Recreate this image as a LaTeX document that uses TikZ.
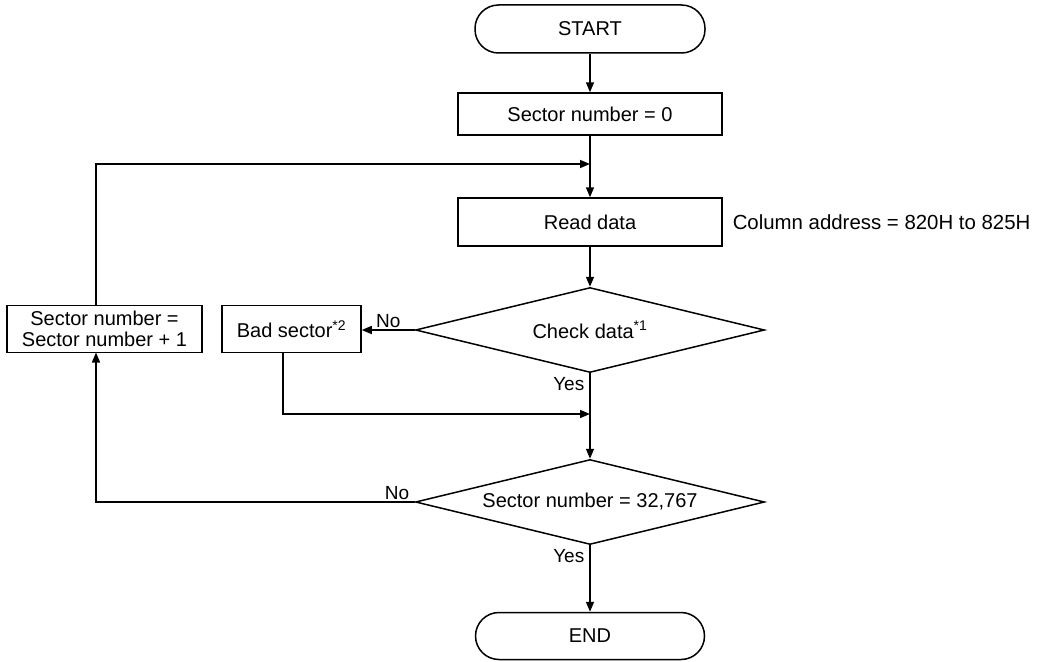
\documentclass[tikz,border=0pt]{standalone}
\usepackage{fontspec}
\setmainfont{Liberation Sans}
\usetikzlibrary{shapes.geometric,arrows.meta}
\newcommand{\ztext}[1]{\makebox[0pt]{#1}}
\tikzset{
  every node/.style={font=\fontsize{20}{23}\selectfont, inner sep=0pt},
  term/.style={draw, rectangle, rounded corners=23.5pt, minimum width=230pt, minimum height=48pt},
  procbox/.style={draw, rectangle},
  decision/.style={draw, diamond, aspect=4.1, minimum width=349pt, minimum height=85pt},
  arr/.style={-{Triangle[length=10pt,width=8pt]}},
  lbl/.style={font=\fontsize{19}{21}\selectfont},
}
\begin{document}
\begin{tikzpicture}[x=1pt,y=-1pt,line width=1.5pt]
\useasboundingbox (0,0) rectangle (1046,661);
\node[term] (start) at (590,29) {START};
\node[procbox, minimum width=264pt, minimum height=42pt] (s0) at (590,114) {Sector number = 0};
\node[procbox, minimum width=264pt, minimum height=48pt] (read) at (590,222) {Read data};
\node[anchor=west, font=\fontsize{20.4}{23}\selectfont] (col) at (732,222) {Column address = 820H to 825H};
\node[decision] (check) at (590,330) {\ztext{Check data\textsuperscript{*1}}};
\node[procbox, minimum width=139pt, minimum height=47pt] (bad) at (291.5,329) {Bad sector\textsuperscript{*2}};
\node[procbox, minimum width=195pt, minimum height=47pt, align=center, font=\fontsize{20}{21}\selectfont] (inc) at (104.5,329) {Sector number =\\Sector number + 1};
\node[decision] (sec) at (590,502) {\ztext{Sector number = 32,767}};
\node[term, minimum width=229pt, minimum height=47pt] (end) at (590,636) {END};
\coordinate (j1) at (590,164);
\coordinate (j2) at (590,414);
\coordinate (inctop) at (96,305.5);
\coordinate (incbot) at (96,352.5);
\coordinate (badbot) at (283,352.5);

\draw[arr] (start) -- (s0);
\draw[arr] (s0) -- (read);
\draw[arr] (inctop) |- (j1);
\draw[arr] (read) -- (check);
\draw[arr] (check.west) -- node[lbl, above=2pt] (no1) {No} (check.west -| bad.east);
\draw[arr] (check.south) -- (sec.north);
\node[lbl, anchor=north east] (yes1) at ([xshift=-5pt,yshift=-3pt]check.south) {Yes};
\draw[arr] (badbot) |- (j2);
\draw[arr] (sec.west) -| (incbot);
\node[lbl, anchor=south] (no2) at (397,500) {No};
\draw[arr] (sec.south) -- (end);
\node[lbl, anchor=north east] (yes2) at ([xshift=-5pt,yshift=-3pt]sec.south) {Yes};
\end{tikzpicture}
\end{document}
